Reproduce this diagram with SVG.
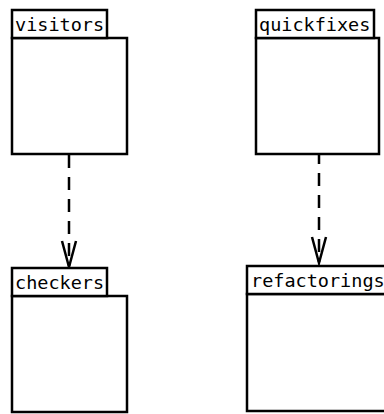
<svg xmlns="http://www.w3.org/2000/svg" width="384" height="414" viewBox="0 0 384 414">
<style>
.box{fill:#fff;stroke:#000;stroke-width:2.5}
.lbl{font-family:"DejaVu Sans Mono","Liberation Mono",monospace;font-size:18.5px;fill:#000}
.dep{fill:none;stroke:#000;stroke-width:2.5;stroke-dasharray:13,9}
.head{fill:none;stroke:#000;stroke-width:2.5}
</style>
<rect width="384" height="414" fill="#fff"/>
<g id="connectors">
<line class="dep" x1="69" y1="155" x2="69" y2="266"/>
<polyline class="head" points="62,241 69,267 76,241"/>
<line class="dep" x1="319" y1="155" x2="319" y2="262" stroke-dashoffset="4"/>
<polyline class="head" points="312,237 319,263 326,237"/>
</g>
<g id="visitors">
<rect class="box" x="12" y="38" width="115" height="116"/>
<rect class="box" x="12" y="10" width="95" height="28"/>
<text class="lbl" x="15" y="31">visitors</text>
</g>
<g id="quickfixes">
<rect class="box" x="256" y="38" width="123" height="116"/>
<rect class="box" x="256" y="10" width="118" height="28"/>
<text class="lbl" x="259" y="31">quickfixes</text>
</g>
<g id="checkers">
<rect class="box" x="12" y="296" width="115" height="116"/>
<rect class="box" x="12" y="268" width="95" height="28"/>
<text class="lbl" x="15" y="289">checkers</text>
</g>
<g id="refactorings">
<rect class="box" x="247" y="294" width="145" height="117"/>
<rect class="box" x="247" y="266" width="145" height="28"/>
<text class="lbl" x="251" y="287">refactorings</text>
</g>
</svg>
